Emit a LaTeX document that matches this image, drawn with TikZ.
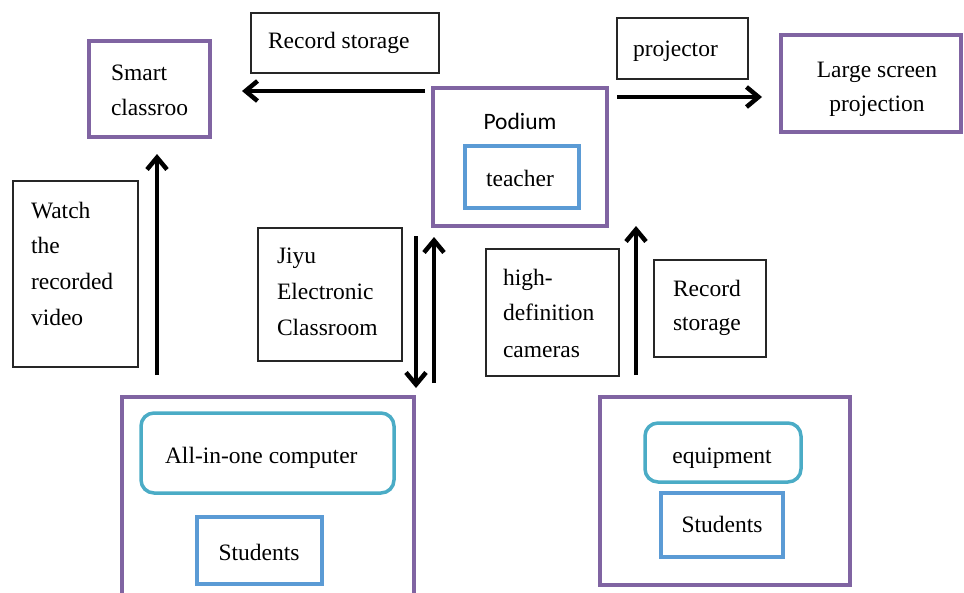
\documentclass[tikz,border=0pt]{standalone}
\usepackage{fontspec}
\setmainfont{Liberation Serif}
\newfontfamily\podiumfont{Carlito}
\usetikzlibrary{arrows.meta,fit}
\definecolor{boxpurple}{HTML}{8064A2}
\definecolor{boxblue}{HTML}{5B9BD5}
\definecolor{boxteal}{HTML}{4BACC6}
\begin{document}
\begin{tikzpicture}[x=1pt,y=-1pt,
  every node/.style={inner sep=0pt,outer sep=0pt},
  purplebox/.style={draw=boxpurple,line width=4pt},
  bluebox/.style={draw=boxblue,line width=3.5pt},
  tealbox/.style={draw=boxteal,line width=3.5pt,rounded corners=13pt},
  labelbox/.style={draw=black!85,line width=1.3pt},
  txt/.style={anchor=base west,font=\fontsize{23.5}{35}\selectfont},
  ctxt/.style={anchor=base,font=\fontsize{23.5}{35}\selectfont},
  arr/.style={line width=4.5pt,-{Straight Barb[length=12pt,width=20pt,line width=4.5pt]}}]
\useasboundingbox (0,0) rectangle (964,592);
\clip (0,0) rectangle (964,592);

% boxes
\node[purplebox,fit={(89,41)(210,137)}] (smart) {};
\node[labelbox,fit={(251,13)(439,73)}] (recTop) {};
\node[purplebox,fit={(433,88)(607,226)}] (podium) {};
\node[bluebox,fit={(465,146)(579,208)}] (teacher) {};
\node[labelbox,fit={(617,18)(748,79)}] (proj) {};
\node[purplebox,fit={(781,35)(961,132)}] (screen) {};
\node[labelbox,fit={(13,181)(138,367)}] (watch) {};
\node[labelbox,fit={(258,228)(402,361)}] (jiyu) {};
\node[labelbox,fit={(486,249)(619,376)}] (cams) {};
\node[labelbox,fit={(654,260)(766,357)}] (recRight) {};
\node[purplebox,fit={(122,397)(414,610)}] (leftroom) {};
\node[tealbox,fit={(141,413)(394,493)}] (aio) {};
\node[bluebox,fit={(197,517)(322,584)}] (stuL) {};
\node[purplebox,fit={(600,397)(850,585)}] (rightroom) {};
\node[tealbox,fit={(645,423)(801,482)}] (equip) {};
\node[bluebox,fit={(661,493)(783,557)}] (stuR) {};

% texts
\node[txt] (t1) at (111,80) {Smart};
\node[txt] (t2) at (111,115) {classroo};
\node[txt] (t3) at (268,48) {Record storage};
\node[ctxt,font=\podiumfont\fontsize{23.5}{35}\selectfont] (t4) at (520,129) {Podium};
\node[ctxt] (t5) at (520,186) {teacher};
\node[txt] (t6) at (633,56) {projector};
\node[ctxt] (t7) at (877,77) {Large screen};
\node[ctxt] (t8) at (877,111) {projection};
\node[txt] (t9) at (31,218) {Watch};
\node[txt] (t10) at (31,253) {the};
\node[txt] (t11) at (31,289) {recorded};
\node[txt] (t12) at (31,325) {video};
\node[txt] (t13) at (277,263) {Jiyu};
\node[txt] (t14) at (277,299) {Electronic};
\node[txt] (t15) at (277,335) {Classroom};
\node[txt] (t16) at (503,285) {high-};
\node[txt] (t17) at (503,320) {definition};
\node[txt] (t18) at (503,357) {cameras};
\node[txt] (t19) at (673,296) {Record};
\node[txt] (t20) at (673,330) {storage};
\node[txt] (t21) at (165,463) {All-in-one computer};
\node[ctxt] (t22) at (259,560) {Students};
\node[ctxt] (t23) at (722,463) {equipment};
\node[ctxt] (t24) at (722,532) {Students};

% connectors
\draw[arr] ([shift={(-8,3)}]podium.north west) -- ([shift={(32,50)}]smart.north east);
\draw[arr] ([shift={(10,9)}]podium.north east) -- ([shift={(-19,62)}]screen.north west);
\draw[arr] ([shift={(35,-22)}]leftroom.north west) -- ([shift={(68,17)}]smart.south west);
\draw[arr] ([shift={(-17,10)}]podium.south west) -- ([shift={(2,-9)}]leftroom.north east);
\draw[arr] ([shift={(20,-14)}]leftroom.north east) -- ([shift={(1,11)}]podium.south west);
\draw[arr] ([shift={(36,-22)}]rightroom.north west) -- ([shift={(29,0)}]podium.south east);
\end{tikzpicture}
\end{document}
